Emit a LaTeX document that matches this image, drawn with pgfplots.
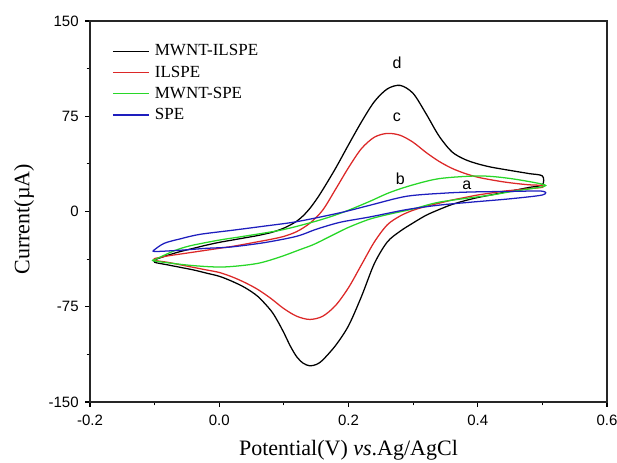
\documentclass[border=0pt]{standalone}
\usepackage{fontspec}
\setmainfont{Liberation Serif}
\setsansfont{Liberation Sans}
\usepackage{pgfplots}
\pgfplotsset{compat=1.18}
\definecolor{cvred}{RGB}{220,40,40}
\definecolor{cvgreen}{RGB}{40,215,40}
\definecolor{cvblue}{RGB}{30,30,190}
\begin{document}
\begin{tikzpicture}
\begin{axis}[
  scale only axis,
  width=387.75pt, height=285.75pt,
  xmin=-0.2, xmax=0.6, ymin=-150, ymax=150,
  xtick={-0.2,0,0.2,0.4,0.6},
  ytick={-150,-75,0,75,150},
  minor x tick num=1, minor y tick num=1,
  tick align=outside,
  xtick pos=bottom, ytick pos=left,
  major tick length=3.5pt, minor tick length=2.5pt,
  every tick/.style={black, line width=0.8pt},
  axis line style={line width=1.1pt, black!85},
  /pgf/number format/assume math mode=true,
  tick label style={font=\sffamily\fontsize{11.25}{13}\selectfont},
  xticklabel style={yshift=-2.5pt, /pgf/number format/.cd, fixed, fixed zerofill, precision=1},
  yticklabel style={xshift=-1.5pt, /pgf/number format/.cd, fixed, precision=0},
  scaled ticks=false,
  xlabel={Potential(V) \textit{vs}.Ag/AgCl},
  ylabel={Current(µA)},
  every axis x label/.style={at={(rel axis cs:0.5,0)}, anchor=base, yshift=-40.5pt,
    font=\fontsize{16.5}{19}\selectfont},
  every axis y label/.style={at={(rel axis cs:0,0.48)}, anchor=center, rotate=90, yshift=49.5pt,
    font=\fontsize{16.5}{19}\selectfont},
  legend style={at={(rel axis cs:0,1)}, anchor=north west, xshift=16.5pt, yshift=-17.5pt,
    draw=none, fill=none, inner sep=0pt, row sep=6.0pt, column sep=4pt,
    font=\fontsize{12.75}{14}\selectfont, nodes={inner sep=0pt}},
  legend cell align=left,
  legend image code/.code={\draw[#1] (0pt,0pt) -- (27pt,0pt);},
  every axis plot/.append style={line width=0.95pt, smooth, tension=0.5},
]
\addplot[black] coordinates {
 (-0.1,-38) (-0.08,-34.5) (-0.06,-31.5) (-0.04,-29) (-0.02,-26.5) (0,-24.3) (0.02,-22.5)
 (0.04,-20.7) (0.06,-18.9) (0.08,-16.6) (0.09,-15) (0.1,-13.1) (0.11,-10.6) (0.12,-7.6)
 (0.13,-3.3) (0.14,2.3) (0.15,9.2) (0.16,17) (0.18,34) (0.2,52.5) (0.22,70.5) (0.24,86.5)
 (0.26,96.5) (0.28,99.3) (0.3,93) (0.32,77) (0.34,59.5) (0.36,47) (0.38,41) (0.4,37.5)
 (0.42,35) (0.44,33.2) (0.46,31.5) (0.48,29.8) (0.5,28)
 (0.5,21) (0.48,19) (0.46,17) (0.44,15) (0.42,13) (0.4,11) (0.38,8.5) (0.36,5.5) (0.34,1.5)
 (0.32,-3) (0.3,-9) (0.28,-15.5) (0.26,-24) (0.24,-41) (0.22,-67) (0.2,-90) (0.18,-105.5)
 (0.16,-117) (0.15,-120.5) (0.14,-121.5) (0.13,-119.5) (0.12,-114.5) (0.11,-106) (0.1,-95.5)
 (0.09,-86) (0.08,-78) (0.06,-67) (0.04,-60) (0.02,-55) (0,-51) (-0.02,-48.5) (-0.04,-46)
 (-0.06,-44) (-0.08,-42) (-0.1,-40) (-0.1,-38)
};
\addlegendentry{MWNT-ILSPE}
\addplot[cvred] coordinates {
 (-0.1,-37) (-0.08,-35) (-0.06,-33.5) (-0.04,-32) (-0.02,-30.5) (0,-29) (0.02,-27.5)
 (0.04,-25.7) (0.06,-23.8) (0.08,-21.9) (0.1,-19.6) (0.12,-15.8) (0.14,-9.3) (0.16,1) (0.18,17.5)
 (0.2,34.5) (0.22,49.5) (0.24,58.5) (0.26,61.5) (0.28,60) (0.3,54.5) (0.32,46.5) (0.34,39.5)
 (0.36,34) (0.38,30) (0.4,27) (0.42,25) (0.44,23.3) (0.46,22) (0.48,21) (0.5,20.5)
 (0.5,19) (0.48,18) (0.46,17) (0.44,16) (0.42,14.5) (0.4,13) (0.38,11) (0.36,9) (0.34,6.5)
 (0.32,4) (0.3,1) (0.28,-3.5) (0.26,-10.5) (0.24,-24) (0.22,-42) (0.2,-60) (0.18,-74)
 (0.16,-82.5) (0.14,-85) (0.12,-82.5) (0.1,-76.5) (0.08,-68.5) (0.06,-61.5) (0.04,-56)
 (0.02,-51.5) (0,-48) (-0.02,-46) (-0.04,-44) (-0.06,-42) (-0.08,-40) (-0.1,-38.5) (-0.1,-37)
};
\addlegendentry{ILSPE}
\addplot[cvgreen] coordinates {
 (-0.1,-38) (-0.07,-31) (-0.045,-27) (0,-22.5) (0.032,-20) (0.094,-14.8) (0.14,-9) (0.171,-4.3)
 (0.2,1) (0.233,8) (0.264,15) (0.3,21) (0.342,26) (0.403,28) (0.45,26) (0.5,21.5)
 (0.5,19.5) (0.45,15.5) (0.419,12.8) (0.342,7.5) (0.3,2) (0.264,-2) (0.233,-6) (0.2,-12.5)
 (0.17,-20) (0.146,-26) (0.125,-30) (0.094,-35.8) (0.058,-41) (0.006,-43.7) (-0.045,-42.4)
 (-0.1,-39) (-0.1,-38)
};
\addlegendentry{MWNT-SPE}
\addplot[cvblue] coordinates {
 (-0.1,-30) (-0.085,-25) (-0.06,-21.5) (-0.03,-18) (0.02,-14.8) (0.07,-11.5) (0.12,-8) (0.187,-1)
 (0.233,4.9) (0.29,12) (0.35,14.5) (0.393,15.4) (0.45,15.8) (0.5,16)
 (0.5,13) (0.45,10) (0.393,7.5) (0.34,5) (0.29,1.5) (0.233,-4.3) (0.187,-8.5) (0.15,-14)
 (0.12,-19.5) (0.07,-24.5) (0.017,-28) (-0.02,-29) (-0.06,-30.5) (-0.1,-31.5) (-0.1,-30)
};
\addlegendentry{SPE}
\node[font=\sffamily\fontsize{12}{14}\selectfont] at (axis cs:0.383,20.6) {a};
\node[font=\sffamily\fontsize{12}{14}\selectfont] at (axis cs:0.28,26) {b};
\node[font=\sffamily\fontsize{12}{14}\selectfont] at (axis cs:0.275,74) {c};
\node[font=\sffamily\fontsize{12}{14}\selectfont] at (axis cs:0.275,117) {d};
\coordinate (bl) at (rel axis cs:0,0);
\coordinate (tr) at (rel axis cs:1,1);
\end{axis}
\pgfresetboundingbox
\path ([shift={(-67.5pt,-45.75pt)}]bl) rectangle ([shift={(7.5pt,15.75pt)}]tr);
\end{tikzpicture}
\end{document}
